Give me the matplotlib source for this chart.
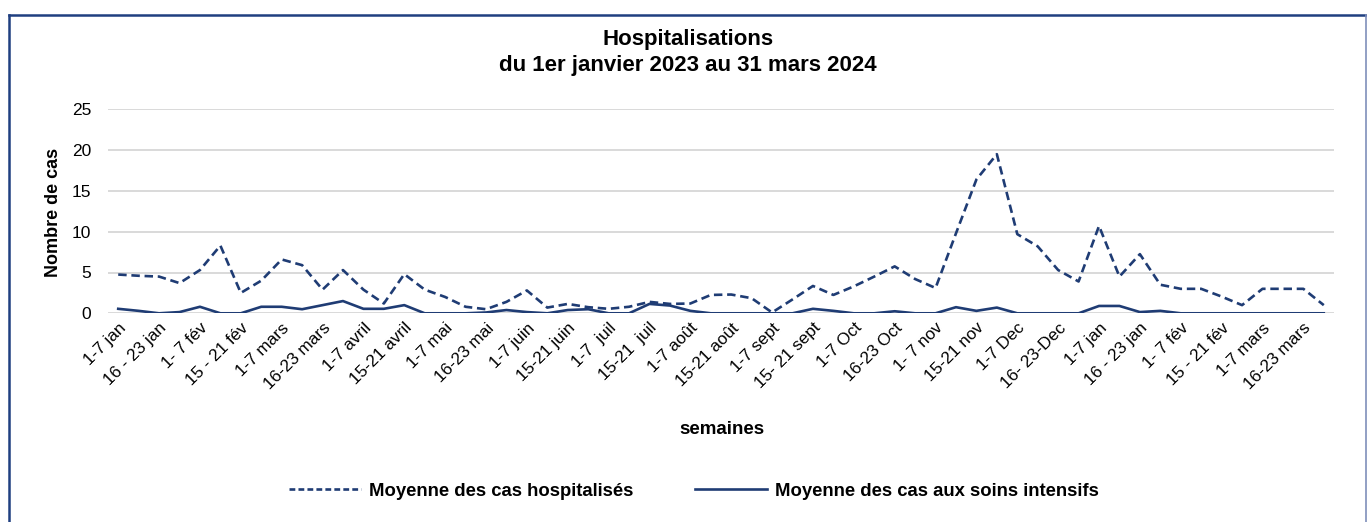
import matplotlib
matplotlib.use("Agg")
import matplotlib.pyplot as plt
from matplotlib.lines import Line2D

plt.rcParams['font.family'] = ['Liberation Sans', 'DejaVu Sans']

# ---- data ----
week_labels = ["1-7 jan", "16 - 23 jan", "1- 7 fév", "15 - 21 fév", "1-7 mars",
               "16-23 mars", "1-7 avril", "15-21 avril", "1-7 mai", "16-23 mai",
               "1-7 juin", "15-21 juin", "1-7  juil", "15-21  juil", "1-7 août",
               "15-21 août", "1-7 sept", "15- 21 sept", "1-7 Oct", "16-23 Oct",
               "1- 7 nov", "15-21 nov", "1-7 Dec", "16- 23-Dec", "1-7 jan",
               "16 - 23 jan", "1- 7 fév", "15 - 21 fév", "1-7 mars", "16-23 mars"]

hospitalises = [4.75, 4.6, 4.5, 3.7, 5.3, 8.3, 2.5, 4.0, 6.6, 5.9,
                2.9, 5.3, 2.9, 1.2, 4.8, 2.9, 2.0, 0.8, 0.5, 1.4,
                2.8, 0.7, 1.15, 0.75, 0.55, 0.8, 1.4, 1.15, 1.2, 2.25,
                2.3, 1.85, 0.1, 1.7, 3.35, 2.25, 3.3, 4.5, 5.75, 4.2,
                3.1, 9.8, 16.4, 19.5, 9.7, 8.2, 5.3, 3.9, 10.7, 4.5,
                7.25, 3.5, 3.0, 3.0, 2.05, 1.0, 3.0, 3.0, 3.0, 1.0]

soins_intensifs = [0.55, 0.3, 0, 0.15, 0.8, 0, 0, 0.8, 0.8, 0.5,
                   1.0, 1.5, 0.55, 0.55, 1.0, 0, 0, 0, 0.1, 0.4,
                   0.15, 0, 0.4, 0.5, 0, 0, 1.15, 0.95, 0.3, 0,
                   0, 0, 0, 0, 0.55, 0.3, 0, 0, 0.25, 0,
                   0, 0.75, 0.3, 0.7, 0, 0, 0, 0, 0.9, 0.9,
                   0.15, 0.3, 0, 0, 0, 0, 0, 0, 0, 0]

y_ticks = [0, 5, 10, 15, 20, 25]

navy = '#1f3c74'
W, H = 1367, 522
fig = plt.figure(figsize=(W / 100, H / 100), dpi=100)
ax = fig.add_axes([108 / W, 1 - 313.3 / H, (1334 - 108) / W, (313.3 - 109.3) / H])

x = list(range(len(hospitalises)))
ax.plot(x, hospitalises, color=navy, lw=1.9, dashes=(3.2, 1.8),
        label='Moyenne des cas hospitalisés')
ax.plot(x, soins_intensifs, color=navy, lw=1.9,
        label='Moyenne des cas aux soins intensifs')

ax.set_xlim(-0.5, len(x) - 0.5)
ax.set_ylim(0, 25)
ax.set_yticks(y_ticks)
ax.set_yticklabels([str(v) for v in y_ticks], fontsize=12.5)
ax.set_xticks(list(range(0, len(x), 2)))
ax.set_xticklabels(week_labels, rotation=45, ha='right', va='top',
                   rotation_mode='anchor', fontsize=12.3)
ax.tick_params(axis='both', length=0)
ax.tick_params(axis='y', pad=12)
ax.tick_params(axis='x', pad=5)

ax.grid(axis='y', color='#d9d9d9', lw=1.4)
ax.set_axisbelow(True)
for s in ax.spines.values():
    s.set_visible(False)

fig.text(53 / W, 1 - 212 / H, 'Nombre de cas', fontsize=13, fontweight='bold',
         ha='center', va='center', rotation=90)
fig.text(722 / W, 1 - 430 / H, 'semaines', fontsize=13.5, fontweight='bold',
         ha='center', va='center')

fig.text(688 / W, 1 - 40 / H, 'Hospitalisations', fontsize=16,
         fontweight='bold', ha='center', va='center')
fig.text(688 / W, 1 - 66 / H, 'du 1er janvier 2023 au 31 mars 2024',
         fontsize=16, fontweight='bold', ha='center', va='center')

# legend
handles = [Line2D([0], [0], color=navy, lw=1.9, dashes=(2.2, 1.2)),
           Line2D([0], [0], color=navy, lw=1.9)]
fig.legend(handles, ['Moyenne des cas hospitalisés', 'Moyenne des cas aux soins intensifs'],
           loc='center', bbox_to_anchor=(694 / W, 1 - 491 / H), ncol=2,
           frameon=False, prop={'weight': 'bold', 'size': 13.3},
           handlelength=3.9, handletextpad=0.45, columnspacing=3.3)

# outer frame
fig.add_artist(Line2D([8.5 / W, 8.5 / W], [-0.05, 1 - 14.5 / H], color='#1f3f80', lw=1.8,
                      transform=fig.transFigure))
fig.add_artist(Line2D([8.5 / W, 1.0], [1 - 14.5 / H, 1 - 14.5 / H], color='#1f3f80', lw=1.8,
                      transform=fig.transFigure))
fig.add_artist(Line2D([1366 / W, 1366 / W], [-0.05, 1 - 14.5 / H], color='#7f8fba', lw=1.2,
                      transform=fig.transFigure))

fig.savefig('out.png', dpi=100)
